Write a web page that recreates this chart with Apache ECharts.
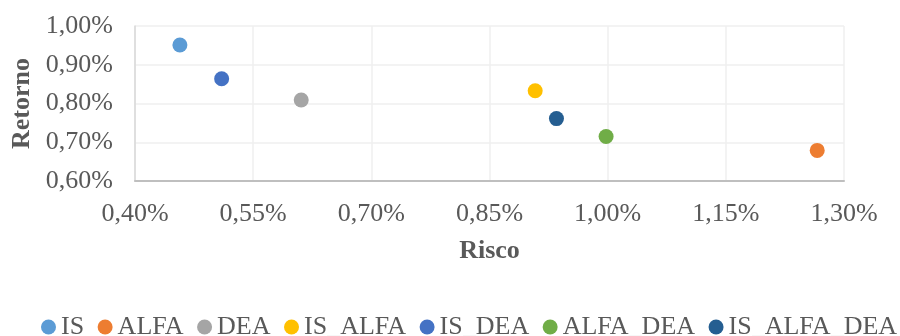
<!DOCTYPE html>
<html>
<head>
<meta charset="utf-8">
<script src="https://cdn.jsdelivr.net/npm/echarts@6/dist/echarts.min.js"></script>
<style>
  html, body { margin: 0; padding: 0; background: #fff; }
  #chart { width: 900px; height: 336px; }
</style>
</head>
<body>
<div id="chart"></div>
<script>
// Portfolio strategies: risk (x, %) vs return (y, %)
const seriesNames = ['IS', 'ALFA', 'DEA', 'IS_ALFA', 'IS_DEA', 'ALFA_DEA', 'IS_ALFA_DEA'];
const riskValues   = [0.457, 1.266, 0.611, 0.908, 0.510, 0.998, 0.935];
const returnValues = [0.951, 0.679, 0.809, 0.833, 0.864, 0.715, 0.761];
const seriesColors = ['#5B9BD5', '#ED7D31', '#A5A5A5', '#FFC000', '#4472C4', '#70AD47', '#255E91'];

const xTicks = { min: 0.40, max: 1.30, step: 0.15 };
const yTicks = { min: 0.60, max: 1.00, step: 0.10 };

const fontFamily = '"Liberation Serif", "Times New Roman", serif';
const textGray = '#595959';

function pct(v) {
  return v.toFixed(2).replace('.', ',') + '%';
}

const chart = echarts.init(document.getElementById('chart'), null, { renderer: 'canvas' });

chart.setOption({
  animation: false,
  backgroundColor: '#ffffff',
  grid: { left: 135, right: 56, top: 26, bottom: 155, containLabel: false },
  legend: {
    left: 41,
    top: 314,
    width: 859,
    padding: 0,
    itemWidth: 15,
    itemHeight: 15,
    itemGap: 13.5,
    icon: 'circle',
    textStyle: { fontFamily: fontFamily, fontSize: 26, color: textGray },
    data: seriesNames
  },
  xAxis: {
    type: 'value',
    min: xTicks.min,
    max: xTicks.max,
    interval: xTicks.step,
    name: 'Risco',
    nameLocation: 'middle',
    nameGap: 57,
    nameTextStyle: { fontFamily: fontFamily, fontSize: 26, fontWeight: 'bold', color: textGray },
    axisLine: { show: true, lineStyle: { color: '#BFBFBF', width: 2 } },
    axisTick: { show: false },
    axisLabel: { fontFamily: fontFamily, fontSize: 26, color: textGray, margin: 20, formatter: pct },
    splitLine: { show: true, lineStyle: { color: '#EFEFEF', width: 1.5 } }
  },
  yAxis: {
    type: 'value',
    min: yTicks.min,
    max: yTicks.max,
    interval: yTicks.step,
    name: 'Retorno',
    nameLocation: 'middle',
    nameGap: 100,
    nameTextStyle: { fontFamily: fontFamily, fontSize: 26, fontWeight: 'bold', color: textGray },
    axisLine: { show: true, lineStyle: { color: '#D9D9D9', width: 1.5 } },
    axisTick: { show: false },
    axisLabel: { fontFamily: fontFamily, fontSize: 26, color: textGray, margin: 22, formatter: pct },
    splitLine: { show: true, lineStyle: { color: '#EFEFEF', width: 1.5 } }
  },
  series: seriesNames.map((name, i) => ({
    name: name,
    type: 'scatter',
    symbol: 'circle',
    symbolSize: 15,
    itemStyle: { color: seriesColors[i], opacity: 1 },
    data: [[riskValues[i], returnValues[i]]]
  }))
});
</script>
</body>
</html>
